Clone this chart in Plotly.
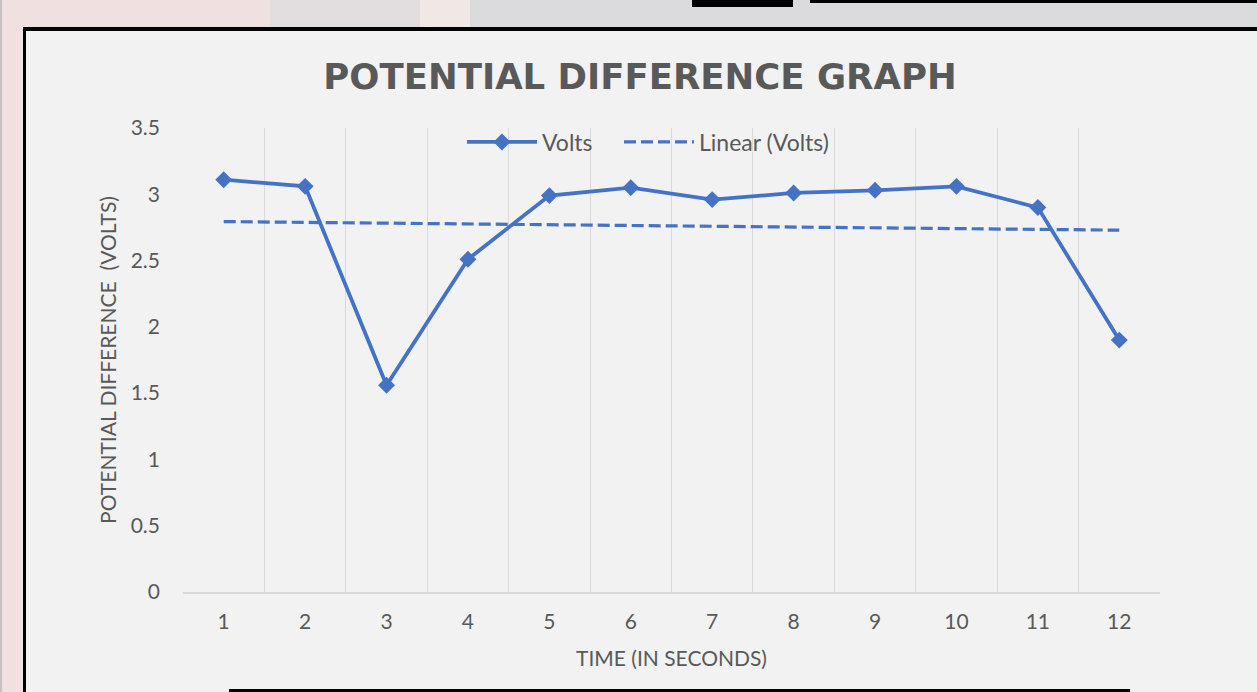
import numpy as np
import plotly.graph_objects as go

# ---- data ----
seconds = [1, 2, 3, 4, 5, 6, 7, 8, 9, 10, 11, 12]
volts = [3.11, 3.06, 1.56, 2.51, 2.99, 3.05, 2.96, 3.01, 3.03, 3.06, 2.90, 1.90]
y_ticks = [0, 0.5, 1, 1.5, 2, 2.5, 3, 3.5]
y_tick_labels = ["0", "0.5", "1", "1.5", "2", "2.5", "3", "3.5"]

# linear trendline (least squares), as Excel computes it
slope, intercept = np.polyfit(seconds, volts, 1)
trend = [slope * s + intercept for s in seconds]

W, H = 1257, 692
L, R, T, B = 183, 97, 128, 100
PW, PH = W - L - R, H - T - B


def px(x):
    return (x - L) / PW


def py(y):
    return (H - B - y) / PH


BLUE = "#4472c4"
TXT = "#595959"
FONT = "Lato"

cats = [str(s) for s in seconds]

fig = go.Figure()
fig.add_trace(go.Scatter(
    x=cats, y=volts, name="Volts", mode="lines+markers",
    line=dict(color=BLUE, width=3.8),
    marker=dict(symbol="diamond", size=13, color=BLUE),
    legendwidth=72,
))
fig.add_trace(go.Scatter(
    x=cats, y=trend, name="Linear (Volts)", mode="lines",
    line=dict(color=BLUE, width=3.2, dash="12px,5px"),
))

shapes = []


def rect(x0, y0, x1, y1, color):
    shapes.append(dict(type="rect", xref="paper", yref="paper",
                       x0=px(x0), x1=px(x1), y0=py(y1), y1=py(y0),
                       fillcolor=color, line=dict(width=0), layer="below"))


# surroundings of the chart
rect(0, 0, 23, H, "#f2dfdf")
rect(0, 0, 270, 27, "#f1e0e0")
rect(270, 0, 420, 27, "#e2dedf")
rect(420, 0, 470, 27, "#efe8e4")
rect(470, 0, W, 27, "#dbdbde")
rect(0, 0, 2, H, "#c8c0c0")
# black frame
rect(23, 27, 26, H, "#000000")
rect(23, 27, W, 31, "#000000")
rect(692, 0, 793, 7, "#000000")
rect(810, 0, W, 3, "#000000")
rect(229, 689, 1130, H, "#000000")

fig.update_layout(
    width=W, height=H,
    margin=dict(l=L, r=R, t=T, b=B, pad=0),
    paper_bgcolor="#f2f2f2",
    plot_bgcolor="#f2f2f2",
    font=dict(family=FONT, color=TXT, size=21),
    title=dict(text="<b>POTENTIAL DIFFERENCE GRAPH</b>",
               xref="container", x=640 / W, xanchor="center",
               y=1 - 77 / H, yanchor="middle",
               font=dict(family="DejaVu Sans", size=35.5, color=TXT)),
    showlegend=True,
    legend=dict(orientation="h", x=px(462), xanchor="left",
                y=py(142), yanchor="middle",
                bgcolor="rgba(0,0,0,0)", font=dict(size=23, color=TXT),
                itemwidth=70, traceorder="normal"),
    xaxis=dict(type="category", tickson="boundaries", showgrid=True,
               gridcolor="#d9d9d9", gridwidth=1.3,
               showline=True, linecolor="#d9d9d9", linewidth=1.5,
               ticks="", ticklabelstandoff=10,
               tickfont=dict(size=21, color=TXT),
               title=dict(text="TIME (IN SECONDS)", standoff=19,
                          font=dict(size=21, color=TXT)),
               range=[-0.5, 11.5], zeroline=False),
    yaxis=dict(range=[0, 3.5], tickvals=y_ticks, ticktext=y_tick_labels,
               showgrid=False, zeroline=False, showline=False, ticks="",
               ticklabelstandoff=22,
               tickfont=dict(size=21, color=TXT),
               title=dict(text="POTENTIAL DIFFERENCE \u00a0(VOLTS)", standoff=8,
                          font=dict(size=21, color=TXT))),
    shapes=shapes,
)

fig.write_html("out.html")
